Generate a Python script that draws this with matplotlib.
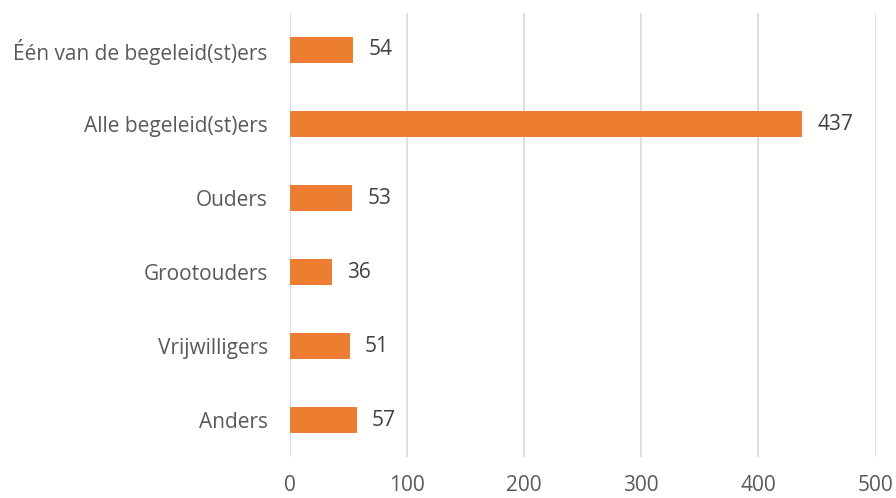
import matplotlib.pyplot as plt

categories = ["Één van de begeleid(st)ers", "Alle begeleid(st)ers", "Ouders",
              "Grootouders", "Vrijwilligers", "Anders"]
values = [54, 437, 53, 36, 51, 57]
xticks = [0, 100, 200, 300, 400, 500]

plt.rcParams['font.family'] = ['Open Sans', 'DejaVu Sans']

fig = plt.figure(figsize=(8.96, 4.98), dpi=100)
ax = fig.add_axes([0.3237, 0.0823, 0.6535, 0.8916])

ypos = list(range(len(categories)))
bars = ax.barh(ypos, values, height=0.35, color='#ED7D31', zorder=3)
ax.bar_label(bars, labels=[str(v) for v in values], padding=11,
             fontsize=15, color='#404040')

ax.set_yticks(ypos)
ax.set_yticklabels(categories)
ax.set_ylim(len(categories) - 0.5, -0.5)
ax.set_xlim(0, 500)
ax.set_xticks(xticks)

ax.grid(axis='x', color='#d9d9d9', linewidth=1.2, zorder=0)
ax.grid(axis='y', visible=False)
for s in ax.spines.values():
    s.set_visible(False)
ax.tick_params(axis='both', length=0, labelsize=15, labelcolor='#595959')
ax.tick_params(axis='x', pad=13)
ax.tick_params(axis='y', pad=16)

fig.savefig('out.png', dpi=100)
